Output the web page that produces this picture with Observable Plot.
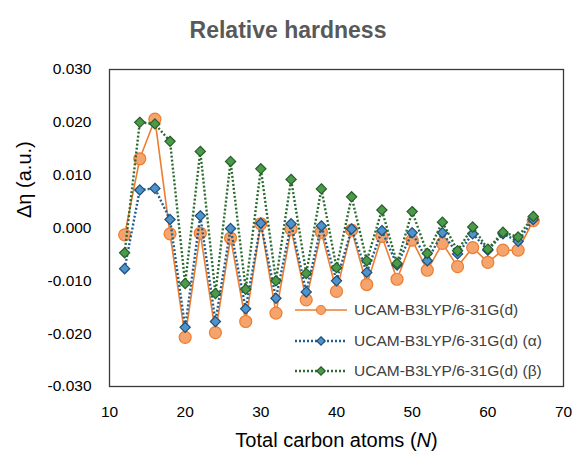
<!DOCTYPE html>
<html>
<head>
<meta charset="utf-8">
<script src="https://cdn.jsdelivr.net/npm/d3@7"></script>
<script src="https://cdn.jsdelivr.net/npm/@observablehq/plot@0.6"></script>
<style>
  body { margin: 0; background: #fff; font-family: "Liberation Sans", Arial, sans-serif; }
  #wrap { position: relative; width: 576px; height: 451px; overflow: hidden; }
  #title { height: 50px; box-sizing: border-box; padding-top: 17px; text-align: center;
           font-weight: bold; font-size: 23px; line-height: 26px; color: #595959; }
  #legend { position: absolute; left: 293px; top: 295px; font-size: 15.5px; color: #404040; }
  #legend .row { display: flex; align-items: center; height: 30.5px; }
  #legend svg { margin-right: 6px; }
</style>
</head>
<body>
<div id="wrap">
  <div id="title">Relative hardness</div>
  <div id="chart"></div>
  <div id="legend"></div>
</div>
<script>
// Total number of carbon atoms
const carbons = [12, 14, 16, 18, 20, 22, 24, 26, 28, 30, 32, 34, 36, 38, 40,
                 42, 44, 46, 48, 50, 52, 54, 56, 58, 60, 62, 64, 66];
// Relative hardness, closed-shell
const dEta = [-0.0013, 0.0131, 0.0206, -0.0011, -0.0207, -0.0010, -0.0198, -0.0019,
              -0.0177, 0.0008, -0.0161, -0.0002, -0.0136, -0.0008, -0.0120, -0.0004,
              -0.0107, -0.0016, -0.0097, -0.0023, -0.0080, -0.0029, -0.0073, -0.0037,
              -0.0065, -0.0042, -0.0042, 0.0014];
// Relative hardness, alpha spin
const dEtaAlpha = [-0.0077, 0.0072, 0.0075, 0.0016, -0.0188, 0.0023, -0.0177, -0.0001,
                   -0.0153, 0.0009, -0.0133, 0.0008, -0.0121, 0.0004, -0.0100, -0.0002,
                   -0.0084, -0.0005, -0.0070, -0.0009, -0.0062, -0.0009, -0.0049, -0.0011,
                   -0.0042, -0.0011, -0.0025, 0.0016];
// Relative hardness, beta spin
const dEtaBeta = [-0.0047, 0.0200, 0.0197, 0.0164, -0.0105, 0.0145, -0.0124, 0.0126,
                  -0.0116, 0.0112, -0.0100, 0.0092, -0.0086, 0.0074, -0.0075, 0.0059,
                  -0.0062, 0.0034, -0.0067, 0.0031, -0.0048, 0.0011, -0.0043, 0.0002,
                  -0.0040, -0.0008, -0.0017, 0.0022];

const xTicks = [10, 20, 30, 40, 50, 60, 70];
const yTicks = [-0.03, -0.02, -0.01, 0, 0.01, 0.02, 0.03];
const seriesNames = ["UCAM-B3LYP/6-31G(d)", "UCAM-B3LYP/6-31G(d) (α)", "UCAM-B3LYP/6-31G(d) (β)"];
const xTitle = "Total carbon atoms (N)";
const yTitle = "Δη (a.u.)";

// One style per series: line colour, dash, marker shape and colours
const styles = [
  {line: "#ED7D31", dash: null, width: 1.6, symbol: "circle", r: 6, fill: "#F4A46C", mark: "#ED7D31"},
  {line: "#1F5F8E", dash: "2,2", width: 2.4, symbol: "diamond2", r: 4.6, fill: "#4E93CB", mark: "#1F4E79"},
  {line: "#2C6B30", dash: "2,2", width: 2.4, symbol: "diamond2", r: 4.6, fill: "#4A9A4A", mark: "#275D2A"}
];

const values = [dEta, dEtaAlpha, dEtaBeta];
const tables = values.map(v => carbons.map((n, i) => ({N: n, eta: v[i]})));

const seriesMarks = tables.flatMap((rows, k) => {
  const s = styles[k];
  return [
    Plot.line(rows, {x: "N", y: "eta", stroke: s.line, strokeWidth: s.width,
                     strokeDasharray: s.dash, strokeLinecap: "butt"}),
    Plot.dot(rows, {x: "N", y: "eta", symbol: s.symbol, r: s.r, fill: s.fill,
                    stroke: s.mark, strokeWidth: 1.2})
  ];
});

const chart = Plot.plot({
  width: 576,
  height: 401,
  marginTop: 19,
  marginBottom: 65,
  marginLeft: 109,
  marginRight: 13,
  style: {fontFamily: "'Liberation Sans', Arial, sans-serif", fontSize: "15.5px", color: "#000", background: "#fff"},
  x: {domain: [10, 70]},
  y: {domain: [-0.03, 0.03]},
  marks: [
    Plot.axisX({ticks: xTicks, tickSize: 0, tickPadding: 19, label: null}),
    Plot.axisY({ticks: yTicks, tickSize: 0, tickPadding: 18, tickFormat: d => d.toFixed(3), label: null}),
    Plot.text([xTitle], {text: d => d, frameAnchor: "bottom", dy: 54, fontSize: 20,
                         lineAnchor: "middle", className: "xtitle"}),
    Plot.text([yTitle], {text: d => d, frameAnchor: "left", dx: -85, dy: -10, rotate: -90,
                         fontSize: 20, lineAnchor: "middle"}),
    ...seriesMarks,
    Plot.frame({stroke: "#3a3a3a", strokeWidth: 1.3})
  ]
});
document.getElementById("chart").appendChild(chart);

// Italic N in the x-axis title
d3.select(chart).selectAll(".xtitle text").each(function () {
  const t = d3.select(this);
  t.text(null);
  t.append("tspan").text("Total carbon atoms (");
  t.append("tspan").attr("font-style", "italic").text("N");
  t.append("tspan").text(")");
});

// Legend: line sample with marker, then the series name
const legend = d3.select("#legend");
styles.forEach((s, k) => {
  const row = legend.append("div").attr("class", "row");
  const svg = row.append("svg").attr("width", 55).attr("height", 16);
  svg.append("line").attr("x1", 2).attr("x2", 54).attr("y1", 8).attr("y2", 8)
     .attr("stroke", s.line).attr("stroke-width", s.width)
     .attr("stroke-dasharray", s.dash);
  const size = s.symbol === "circle" ? Math.PI * 4.5 * 4.5 : Math.PI * 3.8 * 3.8;
  const sym = s.symbol === "circle" ? d3.symbolCircle : d3.symbolDiamond2;
  svg.append("path").attr("transform", "translate(28,8)")
     .attr("d", d3.symbol(sym, size)())
     .attr("fill", s.fill).attr("stroke", s.mark).attr("stroke-width", 1.2);
  row.append("span").text(seriesNames[k]);
});
</script>
</body>
</html>
